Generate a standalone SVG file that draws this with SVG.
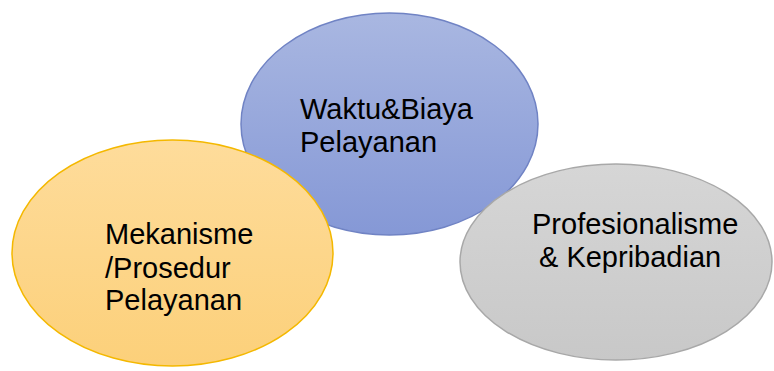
<svg xmlns="http://www.w3.org/2000/svg" width="774" height="371" viewBox="0 0 774 371">
<defs>
<linearGradient id="gBlue" x1="0" y1="0" x2="0" y2="1">
<stop offset="0" stop-color="#a9b7e1"/>
<stop offset="1" stop-color="#8598d6"/>
</linearGradient>
<linearGradient id="gYellow" x1="0" y1="0" x2="0" y2="1">
<stop offset="0" stop-color="#fedc9b"/>
<stop offset="1" stop-color="#fcd07a"/>
</linearGradient>
<linearGradient id="gGray" x1="0" y1="0" x2="0" y2="1">
<stop offset="0" stop-color="#d6d6d6"/>
<stop offset="1" stop-color="#c8c8c8"/>
</linearGradient>
</defs>
<style>
text{font-family:"Liberation Sans",Arial,sans-serif;font-size:29px;fill:#000}
</style>
<rect width="774" height="371" fill="#fff"/>
<g id="connectors"></g>
<g id="node-waktu">
<ellipse cx="389.5" cy="124" rx="148.5" ry="111" fill="url(#gBlue)" stroke="#7083c4" stroke-width="1.5"/>
<text x="300" y="119">Waktu&amp;Biaya</text>
<text x="300" y="152">Pelayanan</text>
</g>
<g id="node-mekanisme">
<ellipse cx="172.5" cy="253" rx="160.5" ry="113" fill="url(#gYellow)" stroke="#f4b800" stroke-width="1.5"/>
<text x="105" y="244">Mekanisme</text>
<text x="105" y="278">/Prosedur</text>
<text x="105" y="310">Pelayanan</text>
</g>
<g id="node-profesionalisme">
<ellipse cx="616" cy="262" rx="156" ry="98" fill="url(#gGray)" stroke="#a8a8a8" stroke-width="1.5"/>
<text x="532" y="234">Profesionalisme</text>
<text x="539" y="267">&amp; Kepribadian</text>
</g>
</svg>
